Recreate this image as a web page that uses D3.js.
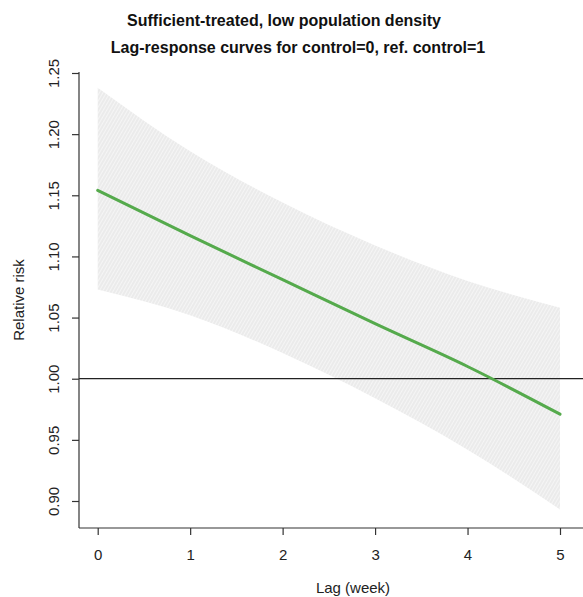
<!DOCTYPE html>
<html>
<head>
<meta charset="utf-8">
<script src="https://cdn.jsdelivr.net/npm/d3@7"></script>
<style>
  html, body { margin: 0; padding: 0; background: #fff; }
  svg { display: block; font-family: "Liberation Sans", Arial, Helvetica, sans-serif; }
</style>
</head>
<body>
<svg id="chart" width="583" height="597"></svg>
<script>
// ---- data ----
const lags = [0, 1, 2, 3, 4, 5];
const rr = [1.154, 1.117, 1.081, 1.045, 1.010, 0.971];
const rrHigh = [1.238, 1.186, 1.144, 1.109, 1.080, 1.058];
const rrLow = [1.073, 1.052, 1.021, 0.984, 0.942, 0.893];
const xTicks = [0, 1, 2, 3, 4, 5];
const yTicks = [0.90, 0.95, 1.00, 1.05, 1.10, 1.15, 1.20, 1.25];
const refValue = 1.0;
const title1 = "Sufficient-treated, low population density";
const title2 = "Lag-response curves for control=0, ref. control=1";
const xLabel = "Lag (week)";
const yLabel = "Relative risk";

// ---- layout ----
const plotLeft = 79, plotBottom = 528, plotTop = 72, plotRight = 583;

const svg = d3.select("#chart");

const x = d3.scaleLinear().domain([0, 5]).range([97.7, 560]);
const y = d3.scaleLinear().domain([0.90, 1.25]).range([501, 73]);

const pts = lags.map((l, i) => ({ l, v: rr[i], hi: rrHigh[i], lo: rrLow[i] }));

// hatch pattern for confidence band
const defs = svg.append("defs");
const pat = defs.append("pattern")
  .attr("id", "hatch")
  .attr("patternUnits", "userSpaceOnUse")
  .attr("width", 3).attr("height", 3)
  .attr("patternTransform", "rotate(30)");
pat.append("rect").attr("width", 3).attr("height", 3).attr("fill", "#ebebeb");
pat.append("line").attr("x1", 0.5).attr("y1", 0).attr("x2", 0.5).attr("y2", 3)
  .attr("stroke", "#f7f7f7").attr("stroke-width", 0.8);

const area = d3.area()
  .x(d => x(d.l))
  .y0(d => y(d.lo))
  .y1(d => y(d.hi))
  .curve(d3.curveMonotoneX);

svg.append("path")
  .datum(pts)
  .attr("d", area)
  .attr("fill", "url(#hatch)")
  .attr("stroke", "none");

// reference line
svg.append("line")
  .attr("x1", plotLeft).attr("x2", plotRight)
  .attr("y1", y(refValue)).attr("y2", y(refValue))
  .attr("stroke", "#222").attr("stroke-width", 1.2);

// fitted curve
const line = d3.line().x(d => x(d.l)).y(d => y(d.v)).curve(d3.curveMonotoneX);
svg.append("path")
  .datum(pts)
  .attr("d", line)
  .attr("fill", "none")
  .attr("stroke", "#55aa4c")
  .attr("stroke-width", 3)
  .attr("stroke-linecap", "round");

// axes (L-shaped box)
svg.append("line")
  .attr("x1", plotLeft).attr("x2", plotLeft)
  .attr("y1", plotTop).attr("y2", plotBottom)
  .attr("stroke", "#333").attr("stroke-width", 1.2);
svg.append("line")
  .attr("x1", plotLeft).attr("x2", plotRight)
  .attr("y1", plotBottom).attr("y2", plotBottom)
  .attr("stroke", "#333").attr("stroke-width", 1.2);

// x axis ticks
const xAxis = d3.axisBottom(x).tickValues(xTicks).tickFormat(d3.format("d"))
  .tickSize(7).tickSizeOuter(0);
const gx = svg.append("g").attr("transform", `translate(0,${plotBottom})`).call(xAxis);
gx.select(".domain").remove();
gx.selectAll(".tick line").attr("stroke", "#333").attr("stroke-width", 1.2);
gx.selectAll(".tick text")
  .attr("y", 32).attr("dy", null)
  .attr("font-size", 15).attr("fill", "#222")
  .attr("font-family", "Liberation Sans, Arial, sans-serif");

// y axis ticks
const yAxis = d3.axisLeft(y).tickValues(yTicks).tickFormat(d3.format(".2f"))
  .tickSize(7).tickSizeOuter(0);
const gy = svg.append("g").attr("transform", `translate(${plotLeft},0)`).call(yAxis);
gy.select(".domain").remove();
gy.selectAll(".tick line").attr("stroke", "#333").attr("stroke-width", 1.2);
gy.selectAll(".tick text")
  .attr("x", null).attr("dy", null)
  .attr("transform", "translate(-20.5,0) rotate(-90)")
  .attr("text-anchor", "middle")
  .attr("font-size", 15).attr("fill", "#222")
  .attr("font-family", "Liberation Sans, Arial, sans-serif");

// titles
svg.append("text")
  .attr("x", 284).attr("y", 26)
  .attr("text-anchor", "middle")
  .attr("font-size", 16).attr("font-weight", "bold").attr("fill", "#111")
  .text(title1);
svg.append("text")
  .attr("x", 298).attr("y", 53)
  .attr("text-anchor", "middle")
  .attr("font-size", 16).attr("font-weight", "bold").attr("fill", "#111")
  .text(title2);

// axis labels
svg.append("text")
  .attr("x", 353).attr("y", 593)
  .attr("text-anchor", "middle")
  .attr("font-size", 15).attr("fill", "#222")
  .text(xLabel);
svg.append("text")
  .attr("transform", "translate(24,300) rotate(-90)")
  .attr("text-anchor", "middle")
  .attr("font-size", 15).attr("fill", "#222")
  .text(yLabel);
</script>
</body>
</html>
